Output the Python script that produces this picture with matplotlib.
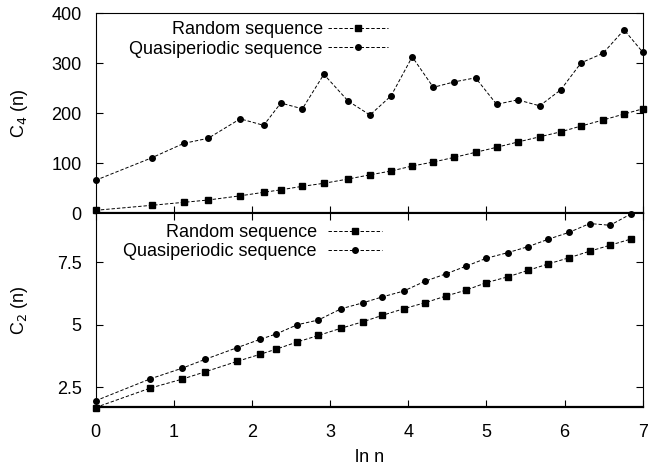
import matplotlib
matplotlib.use("Agg")
import matplotlib.pyplot as plt

plt.rcParams['font.family'] = ['Liberation Sans', 'DejaVu Sans']
plt.rcParams['font.size'] = 13

# ln n positions
ln_n_top = [0.0, 0.718, 1.13, 1.44, 1.85, 2.15, 2.37, 2.645, 2.92, 3.23, 3.51, 3.78,
            4.05, 4.32, 4.59, 4.86, 5.13, 5.40, 5.68, 5.95, 6.21, 6.49, 6.76, 7.0]
ln_n_bottom = [0.0, 0.70, 1.11, 1.40, 1.81, 2.10, 2.31, 2.58, 2.85, 3.14, 3.42, 3.67,
               3.94, 4.21, 4.48, 4.74, 5.0, 5.27, 5.53, 5.79, 6.06, 6.32, 6.58, 6.85]

# C4(n)
c4_random = [6, 16, 22, 26.6, 35, 42, 47, 54, 60, 68.6, 77, 84.6,
             94.6, 102.6, 112, 122, 132, 142.6, 153, 163, 174.6, 186.6, 198.6, 209]
c4_quasi = [66, 111, 140, 150, 189, 176, 220.6, 209, 278, 224.6, 196.6, 235,
            313, 252, 263, 271, 218, 227, 215, 247, 301, 320, 367, 322]

# C2(n)
c2_random = [1.68, 2.46, 2.82, 3.11, 3.53, 3.81, 4.02, 4.31, 4.57, 4.86, 5.12, 5.38,
             5.64, 5.88, 6.15, 6.39, 6.69, 6.92, 7.18, 7.44, 7.69, 7.95, 8.19, 8.44]
c2_quasi = [1.95, 2.83, 3.26, 3.61, 4.08, 4.41, 4.63, 5.0, 5.19, 5.64, 5.88, 6.12,
            6.35, 6.74, 7.04, 7.35, 7.67, 7.89, 8.13, 8.43, 8.71, 9.06, 8.99, 9.45]

labels = ["Random sequence", "Quasiperiodic sequence"]

fig = plt.figure(figsize=(6.5, 4.68), dpi=100)
ax1 = fig.add_axes([0.147, 0.5442, 0.842, 0.4273])
ax2 = fig.add_axes([0.147, 0.1303, 0.842, 0.4139])

line_kw = dict(color="black", linewidth=0.7, linestyle=(0, (3.5, 2)), clip_on=False)

ax1.plot(ln_n_top, c4_random, marker="s", markersize=4, label=labels[0], **line_kw)
ax1.plot(ln_n_top, c4_quasi, marker="o", markersize=4, label=labels[1], **line_kw)
ax2.plot(ln_n_bottom, c2_random, marker="s", markersize=4, label=labels[0], **line_kw)
ax2.plot(ln_n_bottom, c2_quasi, marker="o", markersize=4, label=labels[1], **line_kw)

ax1.set_xlim(0, 7)
ax1.set_ylim(0, 400)
ax1.set_yticks([0, 100, 200, 300, 400])
ax1.set_xticks(range(0, 8))
ax1.tick_params(axis="x", labelbottom=False)
ax1.set_ylabel("C$_4$ (n)")

ax2.set_xlim(0, 7)
ax2.set_ylim(1.7, 9.47)
ax2.set_yticks([2.5, 5, 7.5])
ax2.set_yticklabels(["2.5", "5", "7.5"])
ax2.set_xticks(range(0, 8))
ax2.set_xlabel("ln n", labelpad=6)
ax2.set_ylabel("C$_2$ (n)")

for ax in (ax1, ax2):
    ax.tick_params(direction="in", length=5, width=0.8, right=True, top=(ax is ax2))
    ax.tick_params(axis="y", pad=10)
    ax.tick_params(axis="x", pad=12)
    for side in ("left", "right", "top"):
        ax.spines[side].set_linewidth(0.8)
    ax.spines["bottom"].set_linewidth(1.6)
    ax.yaxis.set_label_coords(-0.12, 0.5)

ax1.legend(loc="upper right", bbox_to_anchor=(0.534, 0.96), frameon=False, markerfirst=False,
           handlelength=3.3, handletextpad=0.3, labelspacing=0.12, borderpad=0, borderaxespad=0)
ax2.legend(loc="upper right", bbox_to_anchor=(0.523, 0.945), frameon=False, markerfirst=False,
           handlelength=3.0, handletextpad=0.6, labelspacing=0.12, borderpad=0, borderaxespad=0)

fig.savefig("out.png", dpi=100)
